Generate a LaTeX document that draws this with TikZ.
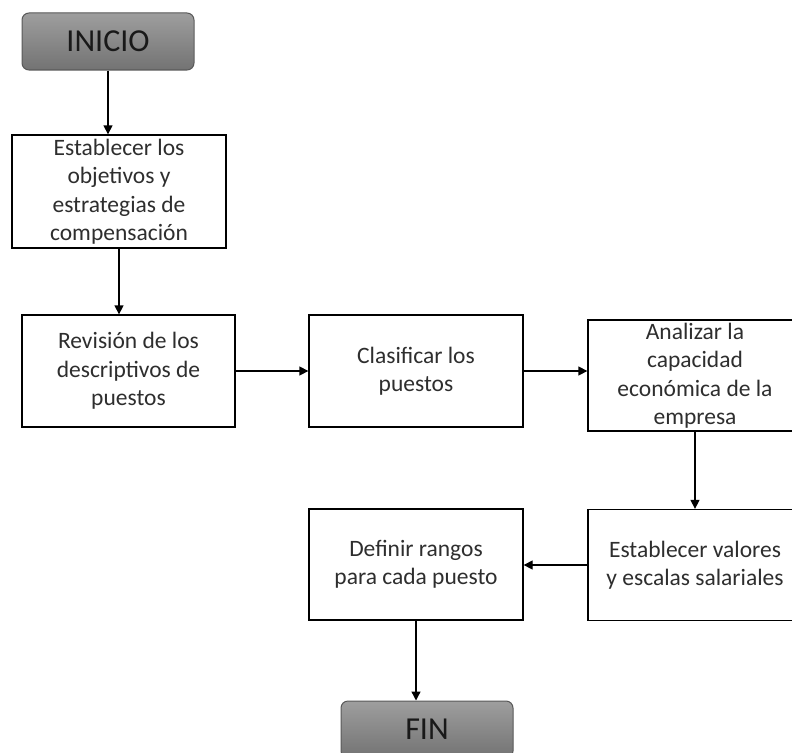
\documentclass[tikz,border=0pt]{standalone}
\usepackage{fontspec}
\setmainfont{Carlito}
\usetikzlibrary{arrows.meta}
\begin{document}
\begin{tikzpicture}[x=1pt,y=-1pt,
  stepbox/.style={draw=black, line width=1.3pt, fill=white, text=black!82,
    align=center, font=\fontsize{23.5}{28.5}\selectfont, inner sep=0pt},
  terminal/.style={draw=black!65, line width=1pt, rounded corners=7pt,
    top color=black!38, bottom color=black!55, text=black!90,
    font=\fontsize{32}{36}\selectfont, inner sep=0pt},
  flow/.style={draw=black, line width=1.3pt, -{Triangle[length=9pt,width=9pt]}}]
\useasboundingbox (0,0) rectangle (792,752);
\clip (0,0) rectangle (792,752);
\fill[white] (0,0) rectangle (792,752);

% start and end
\node[terminal, minimum width=172pt, minimum height=57pt] (ini) at (108,41.5) {INICIO};
\node[terminal, minimum width=172pt, minimum height=57pt] (fin) at (427,729.5) {FIN};

% process steps
\node[stepbox, minimum width=214pt, minimum height=113pt] (b1) at (119,191.5)
  {Establecer los\\objetivos y\\estrategias de\\compensación};
\node[stepbox, minimum width=213pt, minimum height=112pt] (b2) at (128.5,371)
  {Revisión de los\\descriptivos de\\puestos};
\node[stepbox, minimum width=214pt, minimum height=112pt] (b3) at (416,371)
  {Clasificar los\\puestos};
\node[stepbox, minimum width=214pt, minimum height=111pt] (b4) at (695,375.5)
  {Analizar la\\capacidad\\económica de la\\empresa};
\node[stepbox, minimum width=214pt, minimum height=111pt] (b5) at (695,565)
  {Establecer valores\\y escalas salariales};
\node[stepbox, minimum width=214pt, minimum height=111pt] (b6) at (416,564.5)
  {Definir rangos\\para cada puesto};

% connectors
\draw[flow] (ini.south) -- (ini.south |- b1.north);
\draw[flow] (b1.south) -- (b1.south |- b2.north);
\draw[flow] (b2.east) -- (b3.west);
\draw[flow] (b3.east) -- (b3.east -| b4.west);
\draw[flow] (b4.south) -- (b5.north);
\draw[flow] (b5.west) -- (b5.west -| b6.east);
\draw[flow] (b6.south) -- (b6.south |- fin.north);
\end{tikzpicture}
\end{document}
